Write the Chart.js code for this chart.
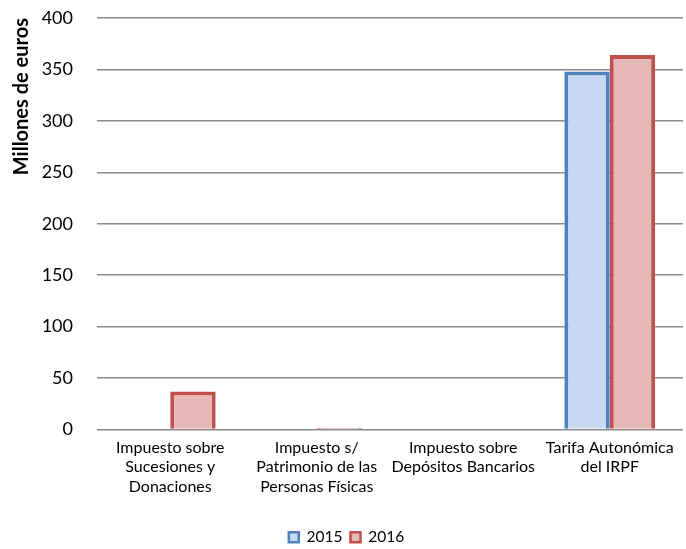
<!DOCTYPE html>
<html>
<head>
<meta charset="utf-8">
<script src="https://cdn.jsdelivr.net/npm/chart.js@4/dist/chart.umd.min.js"></script>
<style>
html,body{margin:0;padding:0;background:#fff;}
#wrap{width:686px;height:549px;position:relative;}
</style>
</head>
<body>
<div id="wrap"><canvas id="c" width="686" height="549"></canvas></div>
<script>
const categories = [
  ["Impuesto sobre", "Sucesiones y", "Donaciones"],
  ["Impuesto s/", "Patrimonio de las", "Personas Físicas"],
  ["Impuesto sobre", "Depósitos Bancarios"],
  ["Tarifa Autonómica", "del IRPF"]
];
const seriesNames = ["2015", "2016"];
const values2015 = [0, 0, 0, 348];
const values2016 = [37, 1.5, 0, 364];
const yTitle = "Millones de euros";

const FONT = "Lato, 'Open Sans', sans-serif";

new Chart(document.getElementById('c'), {
  type: 'bar',
  data: {
    labels: categories,
    datasets: [
      {label: seriesNames[0], data: values2015, backgroundColor: '#C6D9F1', borderColor: '#4F81BD', borderWidth: 4, categoryPercentage: 0.62, barPercentage: 1.0},
      {label: seriesNames[1], data: values2016, backgroundColor: '#E6B9B8', borderColor: '#C0504D', borderWidth: 4, categoryPercentage: 0.62, barPercentage: 1.0}
    ]
  },
  options: {
    responsive: false,
    animation: false,
    devicePixelRatio: 1,
    layout: {autoPadding: false, padding: {left: 10, right: 3, top: 18, bottom: -6}},
    plugins: {
      tooltip: {enabled: false},
      legend: {
        position: 'bottom',
        labels: {
          font: {family: FONT, size: 15.5},
          color: '#000',
          boxWidth: 10,
          boxHeight: 10,
          padding: 8,
          generateLabels(chart) {
            return chart.data.datasets.map((ds, i) => ({
              text: ds.label,
              fillStyle: ds.backgroundColor,
              strokeStyle: ds.borderColor,
              lineWidth: 2.5,
              datasetIndex: i,
              fontColor: '#000'
            }));
          }
        }
      }
    },
    scales: {
      x: {
        grid: {display: false, drawTicks: false},
        border: {display: false},
        ticks: {font: {family: FONT, size: 16, lineHeight: 1.2}, color: '#000', maxRotation: 0, autoSkip: false, padding: 9},
        afterFit(scale) { scale.height = 92; }
      },
      y: {
        min: 0, max: 400,
        ticks: {stepSize: 50, font: {family: FONT, size: 18}, color: '#000', padding: 24},
        grid: {color: '#8C8C8C', lineWidth: 1.5, drawTicks: false},
        border: {display: false},
        title: {display: true, align: 'end', text: yTitle, font: {family: FONT, size: 20, weight: 'bold'}, color: '#000', padding: {top: 0, bottom: 2}},
        afterFit(scale) { scale.width = 87; scale.paddingTop = 0; scale.paddingBottom = 0; }
      }
    }
  }
});
</script>
</body>
</html>
